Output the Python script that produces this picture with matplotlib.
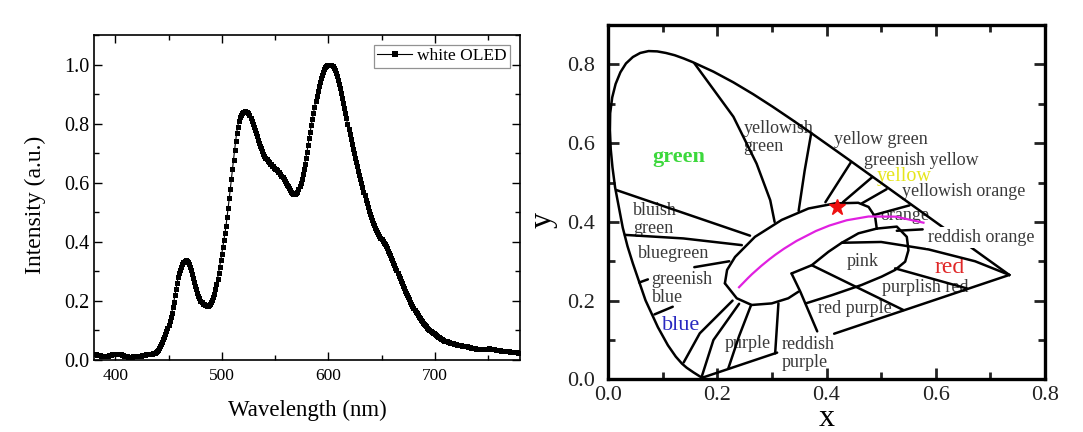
import numpy as np
import matplotlib
matplotlib.use("Agg")
import matplotlib.pyplot as plt
from matplotlib.ticker import MultipleLocator

plt.rcParams['font.family'] = ['Liberation Serif', 'DejaVu Serif']

# ---------------- spectrum (left panel) ----------------
wavelength = list(range(380, 781))
intensity = [
    0.020, 0.020, 0.019, 0.018, 0.018, 0.017, 0.016, 0.015, 0.014, 0.014,
    0.014, 0.014, 0.015, 0.015, 0.016, 0.016, 0.018, 0.019, 0.020, 0.021,
    0.022, 0.022, 0.022, 0.022, 0.020, 0.019, 0.017, 0.016, 0.014, 0.013,
    0.012, 0.012, 0.011, 0.011, 0.011, 0.011, 0.011, 0.012, 0.012, 0.013,
    0.013, 0.014, 0.014, 0.015, 0.015, 0.016, 0.017, 0.018, 0.018, 0.019,
    0.020, 0.020, 0.021, 0.021, 0.022, 0.023, 0.024, 0.025, 0.028, 0.031,
    0.035, 0.041, 0.048, 0.055, 0.062, 0.070, 0.079, 0.088, 0.098, 0.109,
    0.120, 0.133, 0.146, 0.160, 0.178, 0.198, 0.220, 0.240, 0.260, 0.280,
    0.293, 0.305, 0.316, 0.325, 0.331, 0.336, 0.338, 0.336, 0.331, 0.325,
    0.316, 0.305, 0.292, 0.278, 0.265, 0.252, 0.240, 0.228, 0.218, 0.209,
    0.200, 0.195, 0.191, 0.188, 0.186, 0.185, 0.184, 0.184, 0.186, 0.190,
    0.195, 0.203, 0.212, 0.225, 0.240, 0.257, 0.275, 0.295, 0.315, 0.337,
    0.360, 0.382, 0.405, 0.430, 0.455, 0.485, 0.515, 0.547, 0.580, 0.612,
    0.645, 0.678, 0.710, 0.740, 0.770, 0.790, 0.810, 0.822, 0.830, 0.835,
    0.838, 0.840, 0.842, 0.841, 0.840, 0.835, 0.828, 0.820, 0.810, 0.800,
    0.790, 0.779, 0.768, 0.757, 0.746, 0.735, 0.725, 0.716, 0.707, 0.698,
    0.691, 0.685, 0.680, 0.675, 0.670, 0.665, 0.662, 0.658, 0.655, 0.651,
    0.648, 0.645, 0.642, 0.638, 0.635, 0.630, 0.624, 0.618, 0.612, 0.606,
    0.600, 0.594, 0.588, 0.582, 0.576, 0.570, 0.566, 0.563, 0.562, 0.562,
    0.565, 0.570, 0.578, 0.588, 0.600, 0.614, 0.630, 0.647, 0.665, 0.685,
    0.705, 0.728, 0.750, 0.773, 0.795, 0.815, 0.835, 0.855, 0.875, 0.893,
    0.910, 0.926, 0.940, 0.953, 0.965, 0.976, 0.985, 0.991, 0.995, 0.998,
    1.000, 1.000, 1.000, 0.998, 0.995, 0.988, 0.980, 0.971, 0.960, 0.948,
    0.935, 0.920, 0.905, 0.888, 0.870, 0.853, 0.835, 0.818, 0.800, 0.783,
    0.765, 0.748, 0.730, 0.715, 0.700, 0.685, 0.670, 0.655, 0.640, 0.626,
    0.612, 0.598, 0.584, 0.570, 0.557, 0.543, 0.530, 0.518, 0.506, 0.495,
    0.485, 0.475, 0.465, 0.456, 0.448, 0.440, 0.433, 0.426, 0.420, 0.414,
    0.408, 0.402, 0.396, 0.391, 0.385, 0.378, 0.370, 0.362, 0.354, 0.346,
    0.338, 0.329, 0.321, 0.312, 0.303, 0.295, 0.286, 0.277, 0.269, 0.260,
    0.252, 0.243, 0.235, 0.227, 0.219, 0.212, 0.205, 0.197, 0.190, 0.183,
    0.177, 0.170, 0.164, 0.158, 0.152, 0.147, 0.141, 0.136, 0.131, 0.126,
    0.122, 0.118, 0.114, 0.110, 0.106, 0.102, 0.099, 0.096, 0.093, 0.090,
    0.087, 0.084, 0.082, 0.079, 0.077, 0.075, 0.072, 0.070, 0.068, 0.066,
    0.064, 0.063, 0.061, 0.060, 0.059, 0.058, 0.057, 0.056, 0.055, 0.054,
    0.053, 0.052, 0.052, 0.051, 0.050, 0.050, 0.049, 0.048, 0.048, 0.047,
    0.046, 0.045, 0.044, 0.043, 0.042, 0.041, 0.040, 0.040, 0.039, 0.038,
    0.038, 0.037, 0.037, 0.036, 0.036, 0.036, 0.037, 0.037, 0.038, 0.038,
    0.038, 0.039, 0.038, 0.038, 0.037, 0.037, 0.036, 0.035, 0.034, 0.034,
    0.033, 0.033, 0.032, 0.032, 0.031, 0.031, 0.030, 0.030, 0.029, 0.029,
    0.029, 0.028, 0.028, 0.027, 0.027, 0.027, 0.026, 0.026, 0.025, 0.025,
    0.025,
]
spectrum_label = "white OLED"

# ---------------- CIE 1931 diagram (right panel) ----------------
locus_x = [0.1741, 0.1733, 0.1714, 0.1689, 0.1644, 0.1566, 0.1440, 0.1355, 0.1241,
           0.1096, 0.0913, 0.0687, 0.0454, 0.0357, 0.0270, 0.0200, 0.0130, 0.0082,
           0.0050, 0.0035, 0.0040, 0.0077, 0.0139, 0.0227, 0.0329, 0.0455, 0.0590,
           0.0743, 0.0900, 0.1060, 0.1222, 0.1386, 0.1547, 0.1929, 0.2296, 0.2658,
           0.3016, 0.3373, 0.3731, 0.4087, 0.4441, 0.4788, 0.5125, 0.5448, 0.5752,
           0.6029, 0.6270, 0.6482, 0.6658, 0.6915, 0.7079, 0.7190, 0.7260, 0.7300,
           0.7334, 0.7347]
locus_y = [0.0050, 0.0048, 0.0051, 0.0069, 0.0109, 0.0177, 0.0297, 0.0399, 0.0578,
           0.0868, 0.1327, 0.2007, 0.2950, 0.3382, 0.3853, 0.4365, 0.4875, 0.5384,
           0.5850, 0.6330, 0.6760, 0.7160, 0.7502, 0.7800, 0.8024, 0.8187, 0.8290,
           0.8338, 0.8330, 0.8290, 0.8232, 0.8150, 0.8059, 0.7816, 0.7543, 0.7243,
           0.6923, 0.6589, 0.6245, 0.5896, 0.5547, 0.5202, 0.4866, 0.4544, 0.4242,
           0.3965, 0.3725, 0.3514, 0.3340, 0.3083, 0.2920, 0.2809, 0.2740, 0.2700,
           0.2666, 0.2653]

purple_seg1 = [(0.1741, 0.005), (0.3096, 0.068)]
purple_seg2 = [(0.414, 0.116), (0.7347, 0.2653)]

planck_x = [0.5775, 0.5267, 0.4770, 0.4369, 0.4053, 0.3805, 0.3451, 0.3221, 0.3064,
            0.2952, 0.2807, 0.2637, 0.2565, 0.2399]
planck_y = [0.3980, 0.4133, 0.4137, 0.4041, 0.3907, 0.3768, 0.3516, 0.3318, 0.3166,
            0.3048, 0.2884, 0.2674, 0.2577, 0.2341]

device_xy = (0.419, 0.438)

white_upper = [(0.214, 0.244), (0.218, 0.278), (0.2326, 0.311), (0.269, 0.362),
               (0.318, 0.405), (0.367, 0.434), (0.416, 0.447), (0.458, 0.4485),
               (0.477, 0.438), (0.489, 0.413), (0.492, 0.383)]
pink_outline = [(0.492, 0.383), (0.5287, 0.388), (0.547, 0.362), (0.550, 0.328),
                (0.544, 0.299), (0.5256, 0.278), (0.501, 0.261), (0.4646, 0.240),
                (0.410, 0.214), (0.362, 0.193)]
white_lower = [(0.214, 0.244), (0.2357, 0.206), (0.263, 0.189), (0.2998, 0.193),
               (0.330, 0.206), (0.3486, 0.2227)]
inner_edge = [(0.336, 0.269), (0.373, 0.290), (0.4035, 0.324), (0.428, 0.347),
              (0.4585, 0.371), (0.492, 0.383)]
b_green_ygreen = [(0.158, 0.803), (0.2296, 0.667), (0.272, 0.548), (0.297, 0.455), (0.305, 0.400)]
b_ygreen_yg = [(0.372, 0.625), (0.360, 0.530), (0.349, 0.428)]
b_yg_gy = [(0.445, 0.552), (0.398, 0.450)]
b_gy_yellow = [(0.484, 0.514), (0.430, 0.450)]
b_yellow_yo = [(0.510, 0.483), (0.4646, 0.447)]
b_yo_orange = [(0.486, 0.417), (0.552, 0.442)]
b_orange_ro = [(0.5287, 0.3775), (0.576, 0.381)]
b_pink_top = [(0.428, 0.347), (0.500, 0.349), (0.587, 0.330), (0.672, 0.300), (0.7347, 0.2653)]
b_green_bg = [(0.015, 0.481), (0.260, 0.365)]
b_bg_bgreen = [(0.031, 0.367), (0.138, 0.358), (0.245, 0.341)]
b_bgreen_gb = [(0.158, 0.285), (0.222, 0.300)]
b_gb_tick = [(0.057, 0.246), (0.073, 0.254)]
b_gb_blue = [(0.085, 0.165), (0.1185, 0.1845)]
b_blue_1 = [(0.1385, 0.043), (0.168, 0.117), (0.228, 0.200)]
b_blue_2 = [(0.1716, 0.007), (0.193, 0.100), (0.240, 0.192)]
b_purple_1 = [(0.220, 0.027), (0.240, 0.110), (0.262, 0.189)]
b_purple_2 = [(0.306, 0.066), (0.312, 0.193)]
b_rp_redp = [(0.336, 0.269), (0.352, 0.223), (0.383, 0.122)]
b_pink_pp = [(0.373, 0.290), (0.541, 0.176)]
b_pr_red = [(0.5256, 0.282), (0.657, 0.231)]

boundaries = [white_upper, pink_outline, white_lower, inner_edge, b_green_ygreen,
              b_ygreen_yg, b_yg_gy, b_gy_yellow, b_yellow_yo, b_yo_orange, b_orange_ro,
              b_pink_top, b_green_bg, b_bg_bgreen, b_bgreen_gb, b_gb_tick, b_gb_blue,
              b_blue_1, b_blue_2, b_purple_1, b_purple_2, b_rp_redp, b_pink_pp, b_pr_red,
              purple_seg1, purple_seg2]

# label text, anchor (x, y), alignment, colour, size, bold, white-box
region_labels = [
    ("green", (0.129, 0.565), 'center', '#3cd83c', 16, True, False),
    ("yellowish\ngreen", (0.248, 0.615), 'left', '#3a3a3a', 13, False, False),
    ("yellow green", (0.413, 0.609), 'left', '#3a3a3a', 13, False, False),
    ("greenish yellow", (0.468, 0.555), 'left', '#3a3a3a', 13, False, False),
    ("yellow", (0.492, 0.5165), 'left', '#e6e61e', 14.5, False, False),
    ("yellowish orange", (0.538, 0.476), 'left', '#3a3a3a', 13, False, False),
    ("orange", (0.498, 0.417), 'left', '#3a3a3a', 13, False, False),
    ("reddish orange", (0.5867, 0.360), 'left', '#3a3a3a', 13, False, True),
    ("red", (0.626, 0.2835), 'center', '#e02828', 17, False, False),
    ("pink", (0.466, 0.299), 'center', '#3a3a3a', 13, False, False),
    ("purplish red", (0.501, 0.2337), 'left', '#3a3a3a', 13, False, False),
    ("red purple", (0.385, 0.180), 'left', '#3a3a3a', 13, False, False),
    ("reddish\npurple", (0.318, 0.0665), 'left', '#3a3a3a', 13, False, False),
    ("purple", (0.214, 0.090), 'left', '#3a3a3a', 13, False, False),
    ("blue", (0.098, 0.138), 'left', '#2828c0', 16, False, False),
    ("greenish\nblue", (0.080, 0.231), 'left', '#3a3a3a', 13, False, False),
    ("bluegreen", (0.0555, 0.320), 'left', '#3a3a3a', 13, False, False),
    ("bluish\ngreen", (0.046, 0.4065), 'left', '#3a3a3a', 13, False, False),
]

# ---------------- figure ----------------
fig = plt.figure(figsize=(10.83, 4.32), dpi=100)
fig.patch.set_facecolor('white')

ax1 = fig.add_axes([94 / 1083, 72 / 432, 426 / 1083, 325 / 432])
ax1.plot(wavelength, intensity, '-s', color='black', lw=0.8, ms=3.6, mew=0,
         label=spectrum_label)
ax1.set_xlim(380, 780)
ax1.set_ylim(0, 1.1)
ax1.xaxis.set_major_locator(MultipleLocator(100))
ax1.xaxis.set_minor_locator(MultipleLocator(50))
ax1.yaxis.set_major_locator(MultipleLocator(0.2))
ax1.yaxis.set_minor_locator(MultipleLocator(0.1))
ax1.yaxis.set_major_formatter(plt.FuncFormatter(lambda v, p: f"{v:.1f}"))
ax1.tick_params(which='both', direction='in', top=True, right=True, width=1.0)
ax1.tick_params(which='major', length=6)
ax1.tick_params(which='minor', length=3.5)
ax1.tick_params(axis='x', labelsize=12.5, pad=6)
ax1.tick_params(axis='y', labelsize=14.5, pad=3)
for s in ax1.spines.values():
    s.set_linewidth(1.2)
ax1.set_xlabel("Wavelength (nm)", fontsize=16.5)
ax1.set_ylabel("Intensity (a.u.)", fontsize=17)
ax1.xaxis.set_label_coords(0.5, -0.122)
ax1.yaxis.set_label_coords(-0.113, 0.477)
leg = ax1.legend(loc='upper right', fontsize=12.5, frameon=True, fancybox=False,
                 edgecolor='#777777', handlelength=2.0, handletextpad=0.3,
                 borderpad=0.2, borderaxespad=0.55, numpoints=1, markerscale=1.1)
leg.get_frame().set_linewidth(0.9)

ax2 = fig.add_axes([608 / 1083, 52.6 / 432, 437 / 1083, 354.4 / 432])
ax2.plot(locus_x, locus_y, color='black', lw=1.8, solid_joinstyle='round', zorder=3)
for seg in boundaries:
    xs = [p[0] for p in seg]
    ys = [p[1] for p in seg]
    ax2.plot(xs, ys, color='black', lw=1.8, solid_joinstyle='round',
             solid_capstyle='round', zorder=3)
ax2.plot(planck_x, planck_y, color='#e020e0', lw=1.6, zorder=4)
ax2.plot([device_xy[0]], [device_xy[1]], marker='*', color='#ee1111', ms=12,
         mec='#ee1111', zorder=6)

for text, (tx, ty), ha, col, fs, bold, box in region_labels:
    kw = {}
    if box:
        kw['bbox'] = dict(facecolor='white', edgecolor='none', pad=1.5)
    ax2.text(tx, ty, text, ha=ha, va='center', color=col, fontsize=fs,
             fontweight='bold' if bold else 'normal', linespacing=1.05,
             zorder=5 if box else 2, **kw)

ax2.set_xlim(0, 0.8)
ax2.set_ylim(0, 0.9)
ax2.xaxis.set_major_locator(MultipleLocator(0.2))
ax2.xaxis.set_minor_locator(MultipleLocator(0.1))
ax2.yaxis.set_major_locator(plt.FixedLocator([0.0, 0.2, 0.4, 0.6, 0.8]))
ax2.yaxis.set_minor_locator(plt.FixedLocator([0.1, 0.3, 0.5, 0.7]))
ax2.xaxis.set_major_formatter(plt.FuncFormatter(lambda v, p: f"{v:.1f}"))
ax2.yaxis.set_major_formatter(plt.FuncFormatter(lambda v, p: f"{v:.1f}"))
ax2.tick_params(which='both', direction='in', top=True, right=True, width=2.0,
                labelsize=16, colors='#222222')
ax2.tick_params(which='major', length=8)
ax2.tick_params(which='minor', length=5)
ax2.tick_params(axis='x', pad=5)
ax2.tick_params(axis='y', pad=9)
for s in ax2.spines.values():
    s.set_linewidth(2.4)
ax2.set_xlabel("x", fontsize=23)
ax2.set_ylabel("y", fontsize=23)
ax2.xaxis.set_label_coords(0.5, -0.07)
ax2.yaxis.set_label_coords(-0.115, 0.45)

fig.savefig("out.png", dpi=100, facecolor='white')
